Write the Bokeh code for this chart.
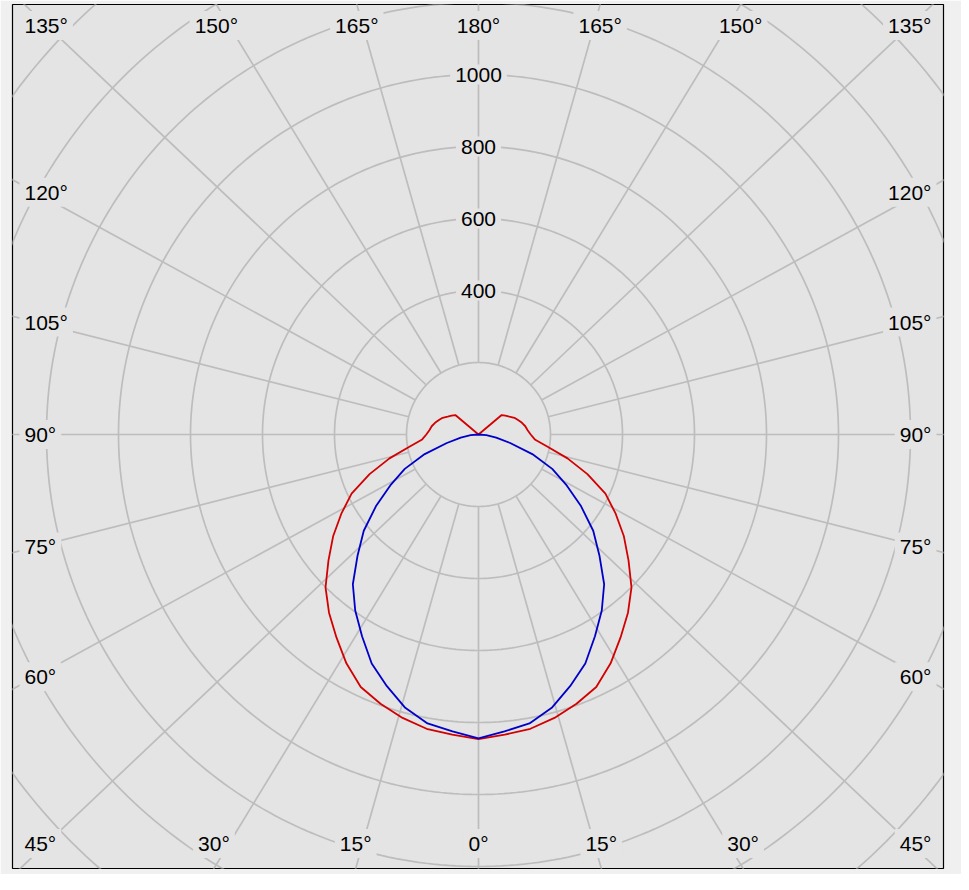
import numpy as np
from bokeh.plotting import figure
from bokeh.models import Range1d
from bokeh.embed import file_html
from bokeh.resources import INLINE
from bokeh.core.properties import value

# ---------------- data (cd, angle from nadir in degrees) ----------------
angles = list(range(0, 185, 5))
red_cd = [846, 837, 830, 815, 796, 774, 734, 688, 646, 601, 544, 493, 440, 389,
          322, 256, 195, 157, 145, 137, 132, 125, 117, 110, 99, 91, 84,
          0, 0, 0, 0, 0, 0, 0, 0, 0, 0]
blue_cd = [844, 828, 815, 786, 744, 702, 647, 597, 543, 475, 416, 348, 283, 226,
           159, 91, 50, 22,
           0, 0, 0, 0, 0, 0, 0, 0, 0, 0, 0, 0, 0, 0, 0, 0, 0, 0, 0]
ring_values = [200, 400, 600, 800, 1000, 1200, 1400, 1600, 1800]
ring_labels = [400, 600, 800, 1000]
spoke_angles = list(range(0, 360, 15))
angle_ticks = list(range(0, 181, 15))

# ---------------- styling / layout ----------------
W, H = 961, 874
ML, MR, MT, MB = 12, 18, 4, 6
FW, FH = W - ML - MR, H - MT - MB
S = 0.36            # px per cd
CX, CY = 466, 430   # centre inside frame (px)
K = 0.947           # vertical squeeze of the spokes
PLOT_BG = "#e4e4e4"
OUTER_BG = "#f0f0f0"
GRID = "#bdbdbd"
FONT = value("Liberation Sans")
FS = "21px"
PAD = (5, 3)

x0, x1 = -CX / S, (FW - CX) / S
y0, y1 = -(FH - CY) / S, CY / S

p = figure(width=W, height=H, output_backend="svg", toolbar_location=None,
           x_range=Range1d(x0, x1), y_range=Range1d(y0, y1),
           x_axis_location=None, y_axis_location=None,
           min_border_left=ML, min_border_right=MR,
           min_border_top=MT, min_border_bottom=MB)
p.grid.visible = False
p.background_fill_color = PLOT_BG
p.border_fill_color = OUTER_BG
p.outline_line_color = "black"
p.outline_line_width = 1.2

# rings
t = np.radians(np.arange(0, 361, 1))
p.multi_line([list(r * np.cos(t)) for r in ring_values],
             [list(r * np.sin(t)) for r in ring_values],
             line_color=GRID, line_width=1.7)

# spokes
sx, sy = [], []
for a in spoke_angles:
    ar = np.radians(a)
    dx, dy = np.sin(ar), -np.cos(ar) * K
    n = np.hypot(dx, dy)
    ux, uy = dx / n, dy / n
    sx.append([ring_values[0] * ux, 3000 * ux])
    sy.append([ring_values[0] * uy, 3000 * uy])
p.multi_line(sx, sy, line_color=GRID, line_width=1.7)

# curves (symmetric)
def full_curve(vals):
    th = [-a for a in angles[::-1]] + angles[1:]
    rr = vals[::-1] + vals[1:]
    th = np.radians(th)
    rr = np.array(rr, dtype=float)
    return list(rr * np.sin(th)), list(-rr * np.cos(th))

rx, ry = full_curve(red_cd)
bx, by = full_curve(blue_cd)
p.line(rx, ry, line_color="#d20000", line_width=1.8, line_join="round")
p.line(bx, by, line_color="#0000c8", line_width=1.8, line_join="round")

# radial value labels
p.text([0] * len(ring_labels), ring_labels, text=[str(v) for v in ring_labels],
       text_align="center", text_baseline="middle", text_font=FONT,
       text_font_size=FS, text_color="black",
       background_fill_color=PLOT_BG, padding=PAD)

# angle labels
ROW = (442 - 33) / S
SIDE_L, SIDE_R = (27 - 486) / S, (944 - 486) / S
SIDE_Y = 443 / S
lab = {"center": ([], [], []), "left": ([], [], []), "right": ([], [], [])}
for a in angle_ticks:
    for sgn in ([1] if a in (0, 180) else [-1, 1]):
        ar = np.radians(a)
        dx, dy = sgn * np.sin(ar), -np.cos(ar) * K
        yb = y1 if dy > 0 else y0
        xb = dx * yb / dy if abs(dy) > 1e-9 else 1e9
        if abs(xb) < 1150:
            key, lx, ly = "center", xb, ROW if dy > 0 else -ROW
        else:
            yy = dy * SIDE_Y / abs(dx)
            yy = max(-ROW, min(ROW, yy))
            key = "left" if sgn < 0 else "right"
            lx, ly = (SIDE_L if sgn < 0 else SIDE_R), yy
        lab[key][0].append(lx)
        lab[key][1].append(ly)
        lab[key][2].append(f"{a}°")

for key, (lx, ly, lt) in lab.items():
    p.text(lx, ly, text=lt, text_align=key, text_baseline="middle",
           text_font=FONT, text_font_size=FS, text_color="black",
           background_fill_color=PLOT_BG, padding=PAD)

open("out.html", "w").write(file_html(p, INLINE))
